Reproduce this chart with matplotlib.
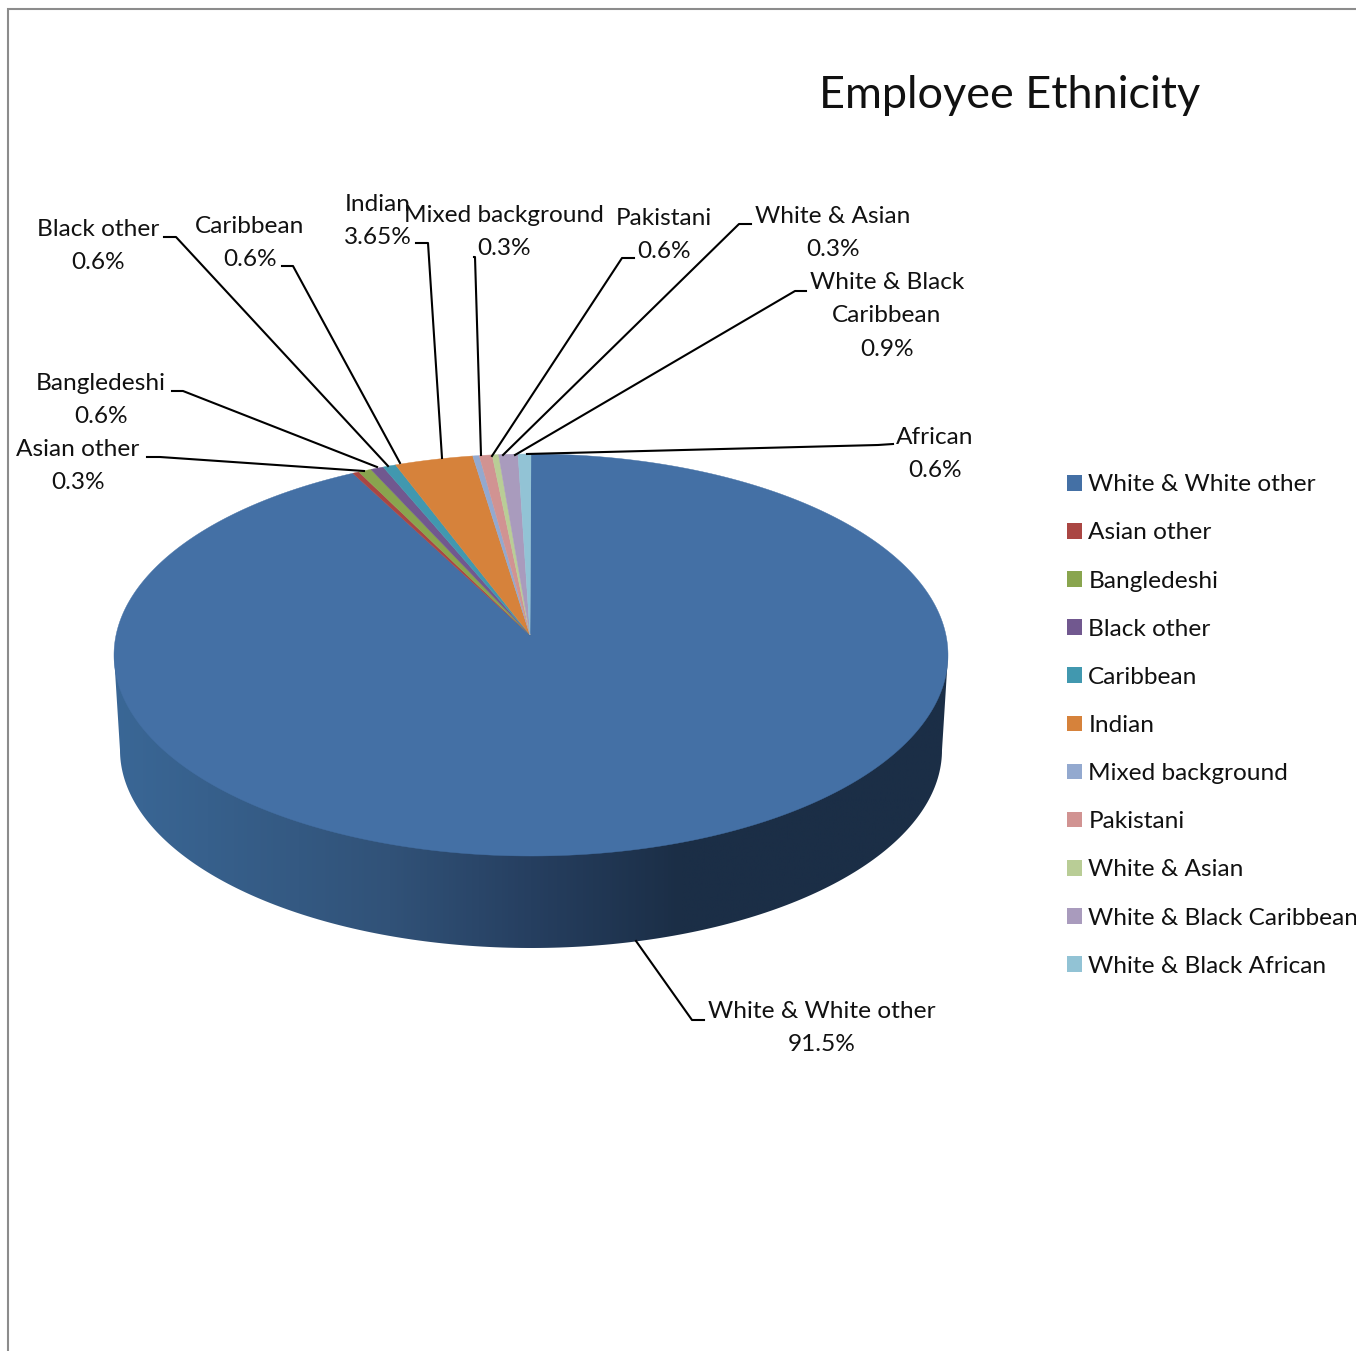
import numpy as np
import matplotlib
matplotlib.use('Agg')
import matplotlib.pyplot as plt
from matplotlib.patches import Polygon, Patch
from matplotlib.colors import LinearSegmentedColormap

plt.rcParams['font.family'] = ['Lato', 'DejaVu Sans']

# slices in drawing order, clockwise from 12 o'clock
categories = ['White & White other', 'Asian other', 'Bangledeshi', 'Black other', 'Caribbean',
              'Indian', 'Mixed background', 'Pakistani', 'White & Asian',
              'White & Black Caribbean', 'White & Black African']
label_names = ['White & White other', 'Asian other', 'Bangledeshi', 'Black other', 'Caribbean',
               'Indian', 'Mixed background', 'Pakistani', 'White & Asian',
               'White & Black\nCaribbean', 'African']
values = [91.5, 0.3, 0.6, 0.6, 0.6, 3.65, 0.3, 0.6, 0.3, 0.9, 0.6]
colors = ['#4470A5', '#AA4643', '#89A54E', '#71588F', '#4198AF', '#D6823B',
          '#93A9CF', '#D19392', '#B9CD96', '#A99BBD', '#92C3D5']

# label centre and leader line for each slice
label_pos = [(822, 1028), (78, 466), (101, 400), (98, 246), (250, 243),
             (378, 221), (504, 232), (664, 235), (833, 233), (887, 316), (935, 454)]
leaders = [[(704, 1020), (692, 1020), (636, 941)],
           [(147, 457), (160, 457), (364, 471)],
           [(172, 391), (183, 391), (377, 467)],
           [(164, 237), (176, 237), (388, 466)],
           [(282, 266), (293, 266), (400, 463)],
           [(416, 243), (428, 243), (442, 458)],
           [(474, 257), (475, 257), (481, 455)],
           [(634, 258), (622, 258), (492, 456)],
           [(751, 224), (739, 224), (503, 455)],
           [(806, 291), (795, 291), (515, 455)],
           [(893, 444), (878, 445), (527, 454)]]

cx, cy, rx, ry = 531, 655, 417, 201
apex = (530, 635)
depth_y, depth_rx, depth_ry = 750, 411, 198
persp = 0.19


def rim(theta):
    # point on the top ellipse, far side squeezed by the tilt
    y = (np.cos(theta) + persp) / (1 + persp * np.cos(theta))
    x = np.sin(theta) * np.sqrt(1 - persp ** 2) / (1 + persp * np.cos(theta))
    return cx + rx * x, cy - ry * y


fig = plt.figure(figsize=(13.56, 13.51), dpi=100)
ax = fig.add_axes([0, 0, 1, 1])
ax.set_xlim(0, 1356)
ax.set_ylim(1351, 0)
ax.axis('off')

# chart frame
ax.plot([8, 8, 1356], [1351, 9, 9], color='#8C8C8C', lw=1.5, solid_joinstyle='miter')

# side wall with a horizontal shade
t = np.linspace(np.pi, 0, 200)
wall = [(cx - rx, cy), (cx - depth_rx, depth_y)]
wall += list(zip(cx + depth_rx * np.cos(t), depth_y + depth_ry * np.sin(t)))
wall += [(cx + rx, cy)]
wall_patch = Polygon(wall, closed=True, fc='none', ec='none')
ax.add_patch(wall_patch)
shade = LinearSegmentedColormap.from_list('wall', [(0, '#3A6796'), (0.33, '#315278'),
                                                   (0.5, '#263F60'), (0.68, '#1B2E46'),
                                                   (1, '#1B2E46')])
im = ax.imshow(np.linspace(0, 1, 512).reshape(1, -1), cmap=shade, aspect='auto',
               extent=[cx - rx, cx + rx, 950, 650], zorder=1)
im.set_clip_path(wall_patch)
ax.set_xlim(0, 1356)
ax.set_ylim(1351, 0)

# top face
total = sum(values)
start = 0.0
for i, v in enumerate(values):
    end = start + v / total * 2 * np.pi
    ang = np.linspace(start, end, max(int(v * 6), 12))
    xs, ys = rim(ang)
    pts = [apex] + list(zip(xs, ys))
    ax.add_patch(Polygon(pts, closed=True, fc=colors[i], ec=colors[i], lw=0.3, zorder=2))
    start = end

# leader lines and value labels
for name, v, pos, line in zip(label_names, values, label_pos, leaders):
    lx, ly = zip(*line)
    ax.plot(lx, ly, color='black', lw=1.5, zorder=3, solid_joinstyle='round')
    ax.text(pos[0], pos[1], f'{name}\n{v}%', ha='center', va='center', fontsize=17.6,
            linespacing=1.74, color='#111111', zorder=4)

ax.text(1010, 96, 'Employee Ethnicity', ha='center', va='center', fontsize=32.4, color='#111111')

handles = [Patch(fc=c, ec='none', label=n) for c, n in zip(colors, categories)]
ax.legend(handles=handles, loc='upper left', bbox_to_anchor=(1060 / 1356, 1 - 467 / 1351),
          frameon=False, fontsize=17.6, labelspacing=1.11, handlelength=0.61, handleheight=0.61,
          handletextpad=0.25, borderpad=0.3, borderaxespad=0, labelcolor='#111111')

fig.savefig('out.png', dpi=100)
